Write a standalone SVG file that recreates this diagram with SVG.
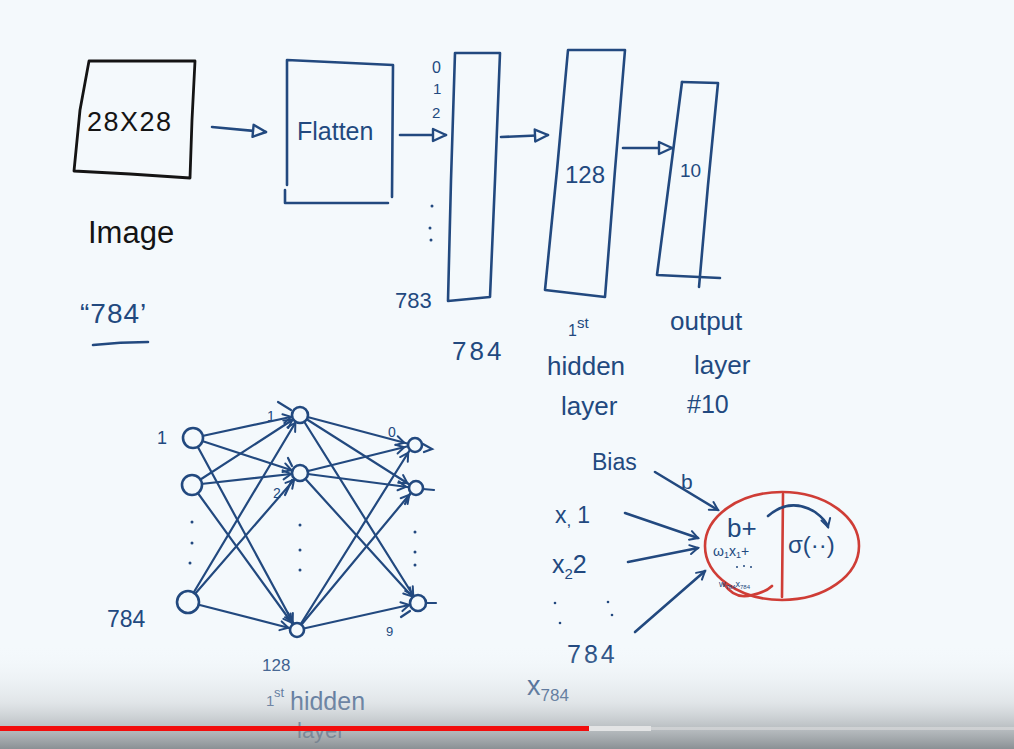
<svg xmlns="http://www.w3.org/2000/svg" width="1014" height="749" viewBox="0 0 1014 749">
<defs>
<style>
.ink{fill:none;stroke:#22497f;stroke-width:2.6;stroke-linecap:round;stroke-linejoin:round}
.blk{fill:none;stroke:#141414;stroke-width:2.8;stroke-linecap:round;stroke-linejoin:round}
.red{fill:none;stroke:#cf3d36;stroke-width:2.6;stroke-linecap:round;stroke-linejoin:round}
.edge{fill:none;stroke:#22497f;stroke-width:2.2;stroke-linecap:round}
.node{fill:#f4f9fc;stroke:#22497f;stroke-width:2.6}
.t{font-family:"Liberation Sans",Arial,sans-serif;fill:#22497f}
.tb{font-family:"Liberation Sans",Arial,sans-serif;fill:#141414}
.dot{fill:#22497f}
</style>
<marker id="tri" markerUnits="userSpaceOnUse" viewBox="-16 -9 18 18" refX="0" refY="0" markerWidth="18" markerHeight="18" orient="auto" overflow="visible">
<path d="M-13,-6 L0,0 L-13,6 Z" fill="#f4f9fc" stroke="#22497f" stroke-width="2.4" stroke-linejoin="round"/>
</marker>
<marker id="ah" markerUnits="userSpaceOnUse" viewBox="-20 -6 22 12" refX="0" refY="0" markerWidth="22" markerHeight="12" orient="auto" overflow="visible">
<path d="M-17,-4.5 L-9,0 L-17,4.5" fill="none" stroke="#22497f" stroke-width="2" stroke-linecap="round"/>
</marker>
<marker id="ah0" markerUnits="userSpaceOnUse" viewBox="-10 -6 12 12" refX="0" refY="0" markerWidth="12" markerHeight="12" orient="auto" overflow="visible">
<path d="M-8,-4.5 L0,0 L-8,4.5" fill="none" stroke="#22497f" stroke-width="2" stroke-linecap="round"/>
</marker>
<linearGradient id="shade" x1="0" y1="0" x2="0" y2="1">
<stop offset="0" stop-color="#f4f9fc" stop-opacity="0"/>
<stop offset="0.55" stop-color="#c9cdd0" stop-opacity="0.45"/>
<stop offset="1" stop-color="#7f8589" stop-opacity="0.9"/>
</linearGradient>
</defs>
<rect width="1014" height="749" fill="#f4f9fc"/>

<!-- top pipeline -->
<g id="image">
<path class="blk" d="M89,61 L195,61 L192,120 L190,178 L130,174 L74,171 L80,110 Z"/>
<text class="tb" x="87" y="131" font-size="27" textLength="84">28X28</text>
<text class="tb" x="88" y="243" font-size="31">Image</text>
</g>
<g id="count784">
<text class="t" x="80" y="323" font-size="28" letter-spacing="1">“784’</text>
<path class="ink" d="M93,345 Q120,342 148,342"/>
</g>
<g id="flatten">
<path class="ink" d="M287,185 L287,60 L393,65 L392,197"/>
<path class="ink" d="M285,190 L285,203 L388,203"/>
<text class="t" x="297" y="140" font-size="25">Flatten</text>
</g>
<g id="input-layer">
<path class="ink" d="M455,53 L500,53 L495,180 L490,297 L448,301 L451,180 Z"/>
<text class="t" x="432" y="73" font-size="16">0</text>
<text class="t" x="433" y="94" font-size="15">1</text>
<text class="t" x="432" y="118" font-size="15">2</text>
<circle class="dot" cx="432" cy="206" r="1.5"/>
<circle class="dot" cx="430" cy="228" r="1.5"/>
<circle class="dot" cx="431" cy="240" r="1.5"/>
<text class="t" x="395" y="308" font-size="22">783</text>
<text class="t" x="452" y="360" font-size="26" letter-spacing="3">784</text>
</g>
<g id="hidden-layer">
<path class="ink" d="M568,50 L625,50 L615,170 L605,297 L545,290 L557,170 Z"/>
<text class="t" x="565" y="183" font-size="24">128</text>
<text class="t" x="568" y="336" font-size="16">1</text>
<text class="t" x="577" y="328" font-size="15">st</text>
<text class="t" x="547" y="375" font-size="26">hidden</text>
<text class="t" x="561" y="415" font-size="26">layer</text>
</g>
<g id="output-layer">
<path class="ink" d="M682,82 L718,83 L708,185 L699,287"/>
<path class="ink" d="M682,82 L670,175 L657,275 L720,278"/>
<text class="t" x="680" y="177" font-size="19">10</text>
<text class="t" x="670" y="330" font-size="26">output</text>
<text class="t" x="694" y="374" font-size="26">layer</text>
<text class="t" x="687" y="413" font-size="25">#10</text>
</g>

<g id="connectors">
<path class="ink" d="M212,127 L266,132" marker-end="url(#tri)"/>
<path class="ink" d="M400,135 L446,135" marker-end="url(#tri)"/>
<path class="ink" d="M501,137 L548,135" marker-end="url(#tri)"/>
<path class="ink" d="M623,148 L672,148" marker-end="url(#tri)"/>

<line class="edge" x1="193" y1="438" x2="300" y2="415" marker-end="url(#ah)"/>
<line class="edge" x1="193" y1="438" x2="300" y2="473" marker-end="url(#ah)"/>
<line class="edge" x1="193" y1="438" x2="297" y2="630" marker-end="url(#ah)"/>
<line class="edge" x1="192" y1="485" x2="300" y2="415" marker-end="url(#ah)"/>
<line class="edge" x1="192" y1="485" x2="300" y2="473" marker-end="url(#ah)"/>
<line class="edge" x1="192" y1="485" x2="297" y2="630" marker-end="url(#ah)"/>
<line class="edge" x1="188" y1="602" x2="300" y2="415" marker-end="url(#ah)"/>
<line class="edge" x1="188" y1="602" x2="300" y2="473" marker-end="url(#ah)"/>
<line class="edge" x1="188" y1="602" x2="297" y2="630" marker-end="url(#ah)"/>
<line class="edge" x1="300" y1="415" x2="413" y2="445" marker-end="url(#ah)"/>
<line class="edge" x1="300" y1="415" x2="415" y2="488" marker-end="url(#ah)"/>
<line class="edge" x1="300" y1="415" x2="418" y2="603" marker-end="url(#ah)"/>
<line class="edge" x1="300" y1="473" x2="413" y2="445" marker-end="url(#ah)"/>
<line class="edge" x1="300" y1="473" x2="415" y2="488" marker-end="url(#ah)"/>
<line class="edge" x1="300" y1="473" x2="418" y2="603" marker-end="url(#ah)"/>
<line class="edge" x1="297" y1="630" x2="413" y2="445" marker-end="url(#ah)"/>
<line class="edge" x1="297" y1="630" x2="415" y2="488" marker-end="url(#ah)"/>
<line class="edge" x1="297" y1="630" x2="418" y2="603" marker-end="url(#ah)"/>
<path class="edge" d="M278,402 L291,410"/>
<path class="edge" d="M288,458 L292,466"/>
<path class="edge" d="M288,613 L292,622"/>
<path class="edge" d="M285,495 L292,480"/>
<path class="edge" d="M423,444 L432,449 L424,452"/>
<path class="edge" d="M423,489 L434,490"/>
<path class="edge" d="M405,504 L410,494"/>
<path class="edge" d="M425,603 L436,603"/>
<path class="edge" d="M401,617 L410,611"/>

<path class="ink" d="M655,472 L718,510" marker-end="url(#ah0)"/>
<path class="ink" d="M625,513 L698,538" marker-end="url(#ah0)"/>
<path class="ink" d="M628,562 L698,548" marker-end="url(#ah0)"/>
<path class="ink" d="M635,632 L705,571" marker-end="url(#ah0)"/>
</g>

<g id="net-input">
<circle class="node" cx="193" cy="438" r="10"/>
<circle class="node" cx="192" cy="485" r="10"/>
<circle class="node" cx="188" cy="602" r="11"/>
<text class="t" x="157" y="444" font-size="18">1</text>
<circle class="dot" cx="192" cy="522" r="1.5"/>
<circle class="dot" cx="192" cy="543" r="1.5"/>
<circle class="dot" cx="190" cy="563" r="1.5"/>
<text class="t" x="107" y="627" font-size="23">784</text>
</g>
<g id="net-hidden">
<circle class="node" cx="300" cy="415" r="8"/>
<circle class="node" cx="300" cy="473" r="8"/>
<circle class="node" cx="297" cy="630" r="7"/>
<text class="t" x="267" y="421" font-size="14">1</text>
<text class="t" x="273" y="498" font-size="14">2</text>
<circle class="dot" cx="300" cy="525" r="1.5"/>
<circle class="dot" cx="300" cy="550" r="1.5"/>
<circle class="dot" cx="300" cy="570" r="1.5"/>
<text class="t" x="262" y="671" font-size="17">128</text>
<text class="t" x="266" y="706" font-size="15">1</text>
<text class="t" x="274" y="697" font-size="13">st</text>
<text class="t" x="290" y="710" font-size="25">hidden</text>
<text class="t" x="297" y="738" font-size="22">layer</text>
</g>
<g id="net-output">
<circle class="node" cx="415" cy="445" r="7"/>
<circle class="node" cx="416" cy="488" r="7"/>
<circle class="node" cx="418" cy="603" r="8"/>
<text class="t" x="388" y="437" font-size="14">0</text>
<circle class="dot" cx="415" cy="532" r="1.5"/>
<circle class="dot" cx="415" cy="552" r="1.5"/>
<circle class="dot" cx="415" cy="565" r="1.5"/>
<text class="t" x="386" y="636" font-size="13">9</text>
</g>

<g id="neuron-inputs">
<text class="t" x="592" y="470" font-size="23">Bias</text>
<text class="t" x="681" y="489" font-size="21">b</text>
<text class="t" x="555" y="523" font-size="23">x<tspan font-size="17" dy="3">,</tspan><tspan dy="-3" dx="6">1</tspan></text>
<text class="t" x="552" y="573" font-size="25">x<tspan font-size="15" dy="6">2</tspan><tspan dy="-6">2</tspan></text>
<circle class="dot" cx="555" cy="603" r="1.3"/>
<circle class="dot" cx="560" cy="623" r="1.3"/>
<circle class="dot" cx="608" cy="602" r="1.3"/>
<circle class="dot" cx="612" cy="615" r="1.3"/>
<text class="t" x="567" y="663" font-size="25" letter-spacing="3">784</text>
<text class="t" x="527" y="695" font-size="27">x<tspan font-size="17" dy="6">784</tspan></text>
</g>
<g id="neuron">
<ellipse class="red" cx="782" cy="546" rx="77" ry="54"/>
<path class="red" d="M783,494 L782,597"/>
<path class="red" d="M724,584 Q735,600 752,595 Q766,592 772,586"/>
<text class="t" x="727" y="537" font-size="26">b+</text>
<text class="t" x="713" y="556" font-size="14">ω<tspan font-size="9" dy="2">1</tspan><tspan dy="-2">x</tspan><tspan font-size="9" dy="2">1</tspan><tspan dy="-2">+</tspan></text>
<circle class="dot" cx="737" cy="567" r="1"/>
<circle class="dot" cx="744" cy="566" r="1"/>
<circle class="dot" cx="751" cy="567" r="1"/>
<text class="t" x="719" y="587" font-size="9">w<tspan font-size="6" dy="2">784</tspan><tspan dy="-2">x</tspan><tspan font-size="6" dy="2">784</tspan></text>
<text class="t" x="788" y="553" font-size="24">σ(··)</text>
<path class="ink" d="M768,516 Q790,497 815,512 Q826,520 828,527" marker-end="url(#ah0)"/>
</g>

<rect x="0" y="645" width="1014" height="104" fill="url(#shade)"/>
<rect x="0" y="727" width="1014" height="3" fill="#d7d9da" opacity="0.7"/>
<rect x="589" y="726" width="62" height="5" fill="#e3e4e5"/>
<rect x="0" y="726" width="589" height="5" fill="#f20d0d"/>
</svg>
